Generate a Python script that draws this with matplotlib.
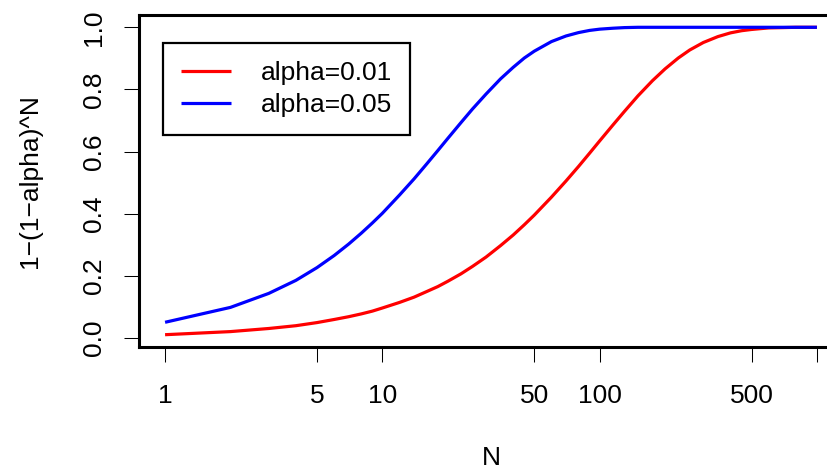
"""Probability of at least one false positive, 1-(1-alpha)^N, vs number of tests N."""

import matplotlib

matplotlib.use("Agg")
import matplotlib.pyplot as plt
from matplotlib.ticker import FixedLocator, FixedFormatter, NullLocator

plt.rcParams["font.family"] = ["Liberation Sans", "DejaVu Sans"]

# Values.
N_VALUES = [1, 2, 3, 4, 5, 6, 7, 8, 9, 10, 12, 14, 16, 18, 20, 23, 26, 30, 35,
            40, 45, 50, 60, 70, 80, 90, 100, 115, 130, 150, 175, 200, 230, 260,
            300, 350, 400, 450, 500, 600, 700, 800, 1000]
P_ALPHA_001 = [0.010, 0.020, 0.030, 0.039, 0.049, 0.059, 0.068, 0.077, 0.086,
               0.096, 0.114, 0.131, 0.149, 0.165, 0.182, 0.206, 0.230, 0.260,
               0.297, 0.331, 0.364, 0.395, 0.453, 0.505, 0.552, 0.595, 0.634,
               0.685, 0.729, 0.779, 0.828, 0.866, 0.901, 0.927, 0.951, 0.970,
               0.982, 0.989, 0.993, 0.998, 0.999, 1.000, 1.000]
P_ALPHA_005 = [0.050, 0.098, 0.143, 0.185, 0.226, 0.265, 0.302, 0.337, 0.370,
               0.401, 0.460, 0.512, 0.560, 0.603, 0.642, 0.693, 0.737, 0.785,
               0.834, 0.871, 0.901, 0.923, 0.954, 0.972, 0.983, 0.990, 0.994,
               0.997, 0.999, 1.000, 1.000, 1.000, 1.000, 1.000, 1.000, 1.000,
               1.000, 1.000, 1.000, 1.000, 1.000, 1.000, 1.000]
SERIES_LABELS = ["alpha=0.01", "alpha=0.05"]
X_TICKS = [1, 5, 10, 50, 100, 500, 1000]
X_TICK_LABELS = ["1", "5", "10", "50", "100", "500", ""]
Y_TICKS = [0.0, 0.2, 0.4, 0.6, 0.8, 1.0]
Y_TICK_LABELS = ["0.0", "0.2", "0.4", "0.6", "0.8", "1.0"]

W_PX, H_PX = 828, 469
FONT_PT = 19
LINE_LW = 2.3

fig = plt.figure(figsize=(W_PX / 100, H_PX / 100), dpi=100)
# plot box in pixels (R style, right edge runs past the device)
left, right, top, bottom = 139, 843, 15, 347
ax = fig.add_axes([left / W_PX, 1 - bottom / H_PX,
                   (right - left) / W_PX, (bottom - top) / H_PX])

ax.plot(N_VALUES, P_ALPHA_001, color="red", linewidth=LINE_LW,
        label=SERIES_LABELS[0], solid_capstyle="butt")
ax.plot(N_VALUES, P_ALPHA_005, color="blue", linewidth=LINE_LW,
        label=SERIES_LABELS[1], solid_capstyle="butt")

ax.set_xscale("log")
ax.set_xlim(10 ** -0.12, 10 ** 3.12)
ax.set_ylim(-0.0296, 1.0396)

ax.xaxis.set_major_locator(FixedLocator(X_TICKS))
ax.xaxis.set_major_formatter(FixedFormatter(X_TICK_LABELS))
ax.xaxis.set_minor_locator(NullLocator())
ax.yaxis.set_major_locator(FixedLocator(Y_TICKS))
ax.yaxis.set_major_formatter(FixedFormatter(Y_TICK_LABELS))

for spine in ax.spines.values():
    spine.set_linewidth(2.2)
ax.tick_params(axis="both", direction="out", length=10.8, width=0.75,
               labelsize=FONT_PT, color="black")
ax.tick_params(axis="x", pad=16)
ax.tick_params(axis="y", pad=13)
for lbl in ax.get_yticklabels():
    lbl.set_rotation(90)
    lbl.set_va("center")

fig.text(491 / W_PX, 1 - 458 / H_PX, "N", ha="center", va="center",
         fontsize=FONT_PT)
fig.text(30 / W_PX, 1 - 181 / H_PX, "1\u2212(1\u2212alpha)^N", ha="center",
         va="center", rotation=90, fontsize=FONT_PT)

leg = ax.legend(
    loc="upper left",
    bbox_to_anchor=(163 / W_PX, 1 - 43 / H_PX),
    bbox_transform=fig.transFigure,
    borderaxespad=0,
    fontsize=FONT_PT,
    handlelength=1.9,
    handletextpad=1.1,
    borderpad=0.69,
    labelspacing=0.29,
    fancybox=False,
    framealpha=1,
)
leg.get_frame().set_edgecolor("black")
leg.get_frame().set_linewidth(1.6)

fig.savefig("out.png", dpi=100)
